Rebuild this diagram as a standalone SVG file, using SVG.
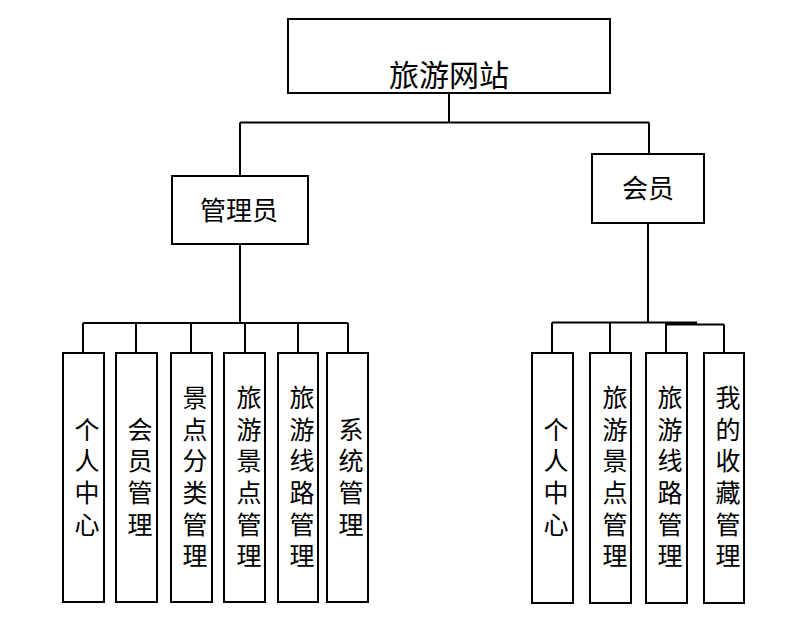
<svg xmlns="http://www.w3.org/2000/svg" width="805" height="617" viewBox="0 0 805 617">
<style>
.box{fill:#fff;stroke:#000;stroke-width:2}
.ln{fill:none;stroke:#000;stroke-width:2}
text{font-family:"Noto Sans CJK SC","Noto Sans CJK JP",sans-serif;fill:#000;text-anchor:middle}
.t1{font-size:30px}
.t2{font-size:26px}
.v{font-size:25px;writing-mode:vertical-rl;letter-spacing:6.7px}
</style>
<rect width="805" height="617" fill="#fff"/>
<g id="connectors">
<path class="ln" d="M449,93 V122.5 M240,122.5 H649 M240,122.5 V176 M649,122.5 V154"/>
<path class="ln" d="M240,244 V323 M83,323 H348 M83,323 V353 M136,323 V353 M191,323 V353 M245,323 V353 M298,323 V353 M348,323 V353"/>
<path class="ln" d="M648,223 V322.5 M552,322.5 H697 M666,324.5 H724 M552,322.5 V353 M610,322.5 V353 M666,322.5 V353 M724,324.5 V353"/>
</g>
<g id="root"><rect class="box" x="288" y="19" width="322" height="74"/><text class="t1" x="449" y="86">旅游网站</text></g>
<g id="admin"><rect class="box" x="172" y="176" width="136" height="68"/><text class="t2" x="239" y="220">管理员</text></g>
<g id="member"><rect class="box" x="592" y="154" width="112" height="69"/><text class="t2" x="648" y="198">会员</text></g>

<g id="a1"><rect class="box" x="63" y="353" width="41" height="249"/><text class="v" x="87" y="480">个人中心</text></g>
<g id="a2"><rect class="box" x="116" y="353" width="41" height="249"/><text class="v" x="140" y="480">会员管理</text></g>
<g id="a3"><rect class="box" x="171" y="353" width="41" height="249"/><text class="v" x="195" y="480">景点分类管理</text></g>
<g id="a4"><rect class="box" x="224" y="353" width="41" height="249"/><text class="v" x="249" y="480">旅游景点管理</text></g>
<g id="a5"><rect class="box" x="278" y="353" width="40" height="249"/><text class="v" x="302" y="480">旅游线路管理</text></g>
<g id="a6"><rect class="box" x="327" y="353" width="41" height="249"/><text class="v" x="351" y="480">系统管理</text></g>

<g id="m1"><rect class="box" x="532" y="353" width="41" height="250"/><text class="v" x="556" y="480">个人中心</text></g>
<g id="m2"><rect class="box" x="590" y="353" width="41" height="250"/><text class="v" x="615" y="480">旅游景点管理</text></g>
<g id="m3"><rect class="box" x="646" y="353" width="41" height="250"/><text class="v" x="670" y="480">旅游线路管理</text></g>
<g id="m4"><rect class="box" x="704" y="353" width="40" height="250"/><text class="v" x="728" y="480">我的收藏管理</text></g>
</svg>
